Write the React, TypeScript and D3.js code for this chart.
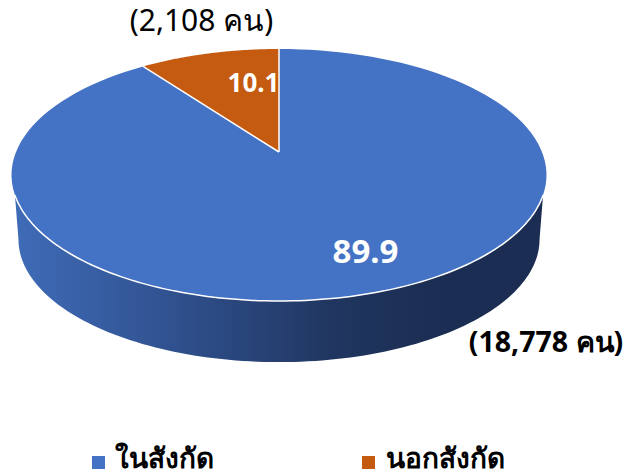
import React from "react";
import * as d3 from "d3";

const categories = ["ในสังกัด", "นอกสังกัด"];
const percents = [89.9, 10.1];
const peopleLabels = ["(18,778 คน)", "(2,108 คน)"];
const colors = ["#4472C4", "#C55A11"];

const W = 626, H = 472;
const FONT = "'Noto Sans', Lato, sans-serif";

// Perspective projection of a flat disc
const k = 0.1825;
const radiusX = d3.scaleLinear().domain([0, 1]).range([0, 263]);
const radiusY = d3.scaleLinear().domain([0, 1]).range([0, 121.8]);
const cx = 279;
const project = (a: number, cy: number, s: number): [number, number] => {
  const u = Math.sin(a), v = -Math.cos(a);
  const w = 1 - k * v;
  return [cx + s * radiusX(u) / w, cy + s * radiusY(v) / w];
};
const TOP_Y = 152, BOT_Y = 217, BOT_S = 0.974;

const line = d3.line();
const sampled = (a0: number, a1: number, cy: number, s: number) =>
  d3.range(0, 121).map((i) => project(a0 + ((a1 - a0) * i) / 120, cy, s));

// pie starts at the top, blue slice clockwise, the orange one ends at 12 o'clock
const arcs = d3.pie<number>().sort(null).value((d) => d)(percents);

// angles (clockwise from top) where the silhouette leaves the top and bottom discs
const topEdge = Math.PI - Math.acos(0.332);
const botEdge = Math.PI - Math.acos(k);
const sidePath =
  line([
    ...sampled(topEdge, 2 * Math.PI - topEdge, TOP_Y, 1),
    ...sampled(2 * Math.PI - botEdge, botEdge, BOT_Y, BOT_S),
  ]) + "Z";
const rimPath = line(sampled(topEdge, 2 * Math.PI - topEdge, TOP_Y, 1));

const slicePath = (a0: number, a1: number) =>
  line([[cx, TOP_Y], ...sampled(a0, a1, TOP_Y, 1)]) + "Z";

export default function App() {
  return (
    <svg width={W} height={H} viewBox={`0 0 ${W} ${H}`} style={{ position: "absolute", left: 0, top: 0, fontFamily: FONT }}>
      <defs>
        <linearGradient id="side" gradientUnits="userSpaceOnUse" x1={12} x2={546} y1={0} y2={0}>
          <stop offset="0" stopColor="#3F6CB8" />
          <stop offset="0.3" stopColor="#30518F" />
          <stop offset="0.6" stopColor="#203660" />
          <stop offset="0.8" stopColor="#1B2D52" />
          <stop offset="1" stopColor="#1B2D52" />
        </linearGradient>
      </defs>
      <path d={sidePath} fill="url(#side)" />
      {arcs.map((a, i) => (
        <path key={i} d={slicePath(a.startAngle, a.endAngle)} fill={colors[i]} />
      ))}
      {arcs.map((a, i) => {
        const p = project(a.endAngle, TOP_Y, 1);
        return i === 0 ? <line key={i} x1={cx} y1={TOP_Y} x2={p[0]} y2={p[1]} stroke="#fff" strokeWidth={1.5} /> : null;
      })}
      <line x1={cx} y1={TOP_Y} x2={cx} y2={49} stroke="#fff" strokeWidth={1.5} />
      <path d={rimPath!} fill="none" stroke="#fff" strokeWidth={1.5} />

      <text x={365.5} y={263} textAnchor="middle" fontSize={33} fontWeight={700} fill="#fff">{percents[0]}</text>
      <text x={253.5} y={92} textAnchor="middle" fontSize={26} fontWeight={700} fill="#fff">{percents[1]}</text>

      <text x={546} y={352} textAnchor="middle" fontSize={28.5} fontWeight={700} fill="#000">{peopleLabels[0]}</text>
      <text x={201.5} y={31} textAnchor="middle" fontSize={30} fill="#000">{peopleLabels[1]}</text>

      {[92, 362].map((x, i) => (
        <g key={i}>
          <rect x={x} y={456} width={13} height={13} fill={colors[i]} />
          <text x={x + (i === 0 ? 23 : 24)} y={468} fontSize={28} fontWeight={700} fill="#000">{categories[i]}</text>
        </g>
      ))}
    </svg>
  );
}
